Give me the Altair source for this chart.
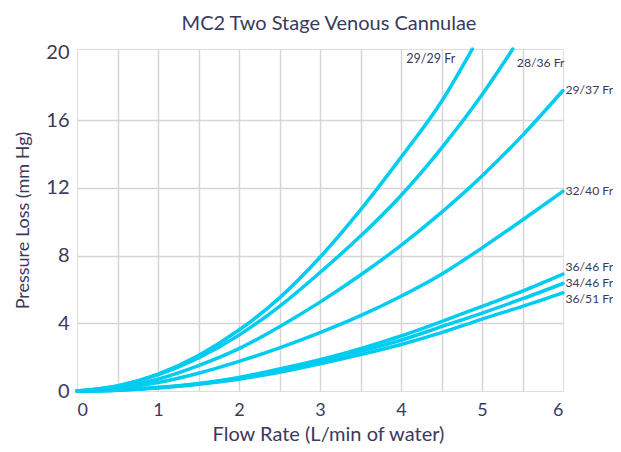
import altair as alt
import pandas as pd

series = ["29/29 Fr", "28/36 Fr", "29/37 Fr", "32/40 Fr", "36/46 Fr", "34/46 Fr", "36/51 Fr"]

x_29_29 = [0, 0.5, 1, 1.5, 2, 2.5, 3, 3.5, 4, 4.5, 4.88]
y_29_29 = [0, 0.3, 1.0, 2.1, 3.6, 5.5, 7.9, 10.7, 13.8, 17.1, 20.2]

x_28_36 = [0, 0.5, 1, 1.5, 2, 2.5, 3, 3.5, 4, 4.5, 5, 5.38]
y_28_36 = [0, 0.3, 0.95, 1.95, 3.3, 5.0, 7.0, 9.15, 11.55, 14.35, 17.5, 20.2]

x_full = [0, 0.5, 1, 1.5, 2, 2.5, 3, 3.5, 4, 4.5, 5, 5.5, 6]
y_29_37 = [0, 0.2, 0.7, 1.5, 2.5, 3.8, 5.25, 6.85, 8.6, 10.55, 12.7, 15.1, 17.75]
y_32_40 = [0, 0.15, 0.5, 1.05, 1.75, 2.55, 3.45, 4.45, 5.6, 6.9, 8.45, 10.1, 11.8]
y_36_46 = [0, 0.05, 0.2, 0.45, 0.8, 1.3, 1.85, 2.5, 3.25, 4.1, 5.0, 5.9, 6.9]
y_34_46 = [0, 0.05, 0.2, 0.42, 0.75, 1.2, 1.75, 2.35, 3.0, 3.8, 4.6, 5.45, 6.35]
y_36_51 = [0, 0.05, 0.18, 0.4, 0.7, 1.1, 1.6, 2.15, 2.75, 3.45, 4.25, 5.0, 5.8]

# label anchors (data units) for the curve annotations
label_x = [4.67, 5.43, 6.03, 6.03, 6.03, 6.03, 6.03]
label_y = [19.6, 19.4, 17.75, 11.8, 7.3, 6.4, 5.45]
label_align = ["right", "left", "left", "left", "left", "left", "left"]

x_grid = [0, 0.5, 1, 1.5, 2, 2.5, 3, 3.5, 4, 4.5, 5, 5.5, 6]
y_grid = [0, 2, 4, 6, 8, 10, 12, 14, 16, 18, 20]

rows = []
for name, xs, ys in [
    (series[0], x_29_29, y_29_29),
    (series[1], x_28_36, y_28_36),
    (series[2], x_full, y_29_37),
    (series[3], x_full, y_32_40),
    (series[4], x_full, y_36_46),
    (series[5], x_full, y_34_46),
    (series[6], x_full, y_36_51),
]:
    for xv, yv in zip(xs, ys):
        rows.append({"series": name, "flow": xv, "loss": yv})
df = pd.DataFrame(rows)

labels = pd.DataFrame({"series": series, "lx": label_x, "ly": label_y, "align": label_align})

TEXT = "#3b3a5c"
LINE = "#00CCF0"
FONT = "Lato"

xscale = alt.Scale(domain=[0, 6], nice=False)
yscale = alt.Scale(domain=[0, 20.2], nice=False)

xaxis = alt.Axis(
    values=x_grid,
    labelExpr="datum.value % 1 == 0 ? format(datum.value, 'd') : ''",
    title="Flow Rate (L/min of water)",
    grid=True,
    gridColor="#d6d6d6",
    gridWidth=1.5,
    gridOpacity={"condition": {"test": "datum.value == 0 || datum.value == 6", "value": 0}, "value": 1},
    ticks=False,
    domain=False,
    labelFontSize=18,
    labelColor=TEXT,
    labelFont=FONT,
    labelPadding=10,
    titleFontSize=20,
    titleFontWeight="normal",
    titleColor=TEXT,
    titleFont=FONT,
    titlePadding=5,
    titleX=251,
)

yaxis = alt.Axis(
    values=y_grid,
    labelExpr="datum.value % 4 == 0 ? format(datum.value, 'd') : ''",
    title="Pressure Loss (mm Hg)",
    grid=True,
    gridColor="#d6d6d6",
    gridWidth=1.5,
    gridOpacity={"condition": {"test": "datum.value == 0 || datum.value == 20", "value": 0}, "value": 1},
    ticks=False,
    domain=False,
    labelFontSize=20,
    labelColor=TEXT,
    labelFont=FONT,
    labelPadding=8,
    titleFontSize=18,
    titleFontWeight="normal",
    titleColor=TEXT,
    titleFont=FONT,
    titlePadding=13,
)

lines = alt.Chart(df).mark_line(
    color=LINE, strokeWidth=3.5, interpolate="monotone", strokeCap="round"
).encode(
    x=alt.X("flow:Q", scale=xscale, axis=xaxis),
    y=alt.Y("loss:Q", scale=yscale, axis=yaxis),
    detail="series:N",
)

text_right = alt.Chart(labels[labels["align"] == "right"]).mark_text(
    align="right", baseline="middle", fontSize=12.5, color=TEXT, font=FONT
).encode(
    x=alt.X("lx:Q", scale=xscale), y=alt.Y("ly:Q", scale=yscale), text="series:N"
)
text_left = alt.Chart(labels[labels["align"] == "left"]).mark_text(
    align="left", baseline="middle", fontSize=12.2, color=TEXT, font=FONT
).encode(
    x=alt.X("lx:Q", scale=xscale), y=alt.Y("ly:Q", scale=yscale), text="series:N"
)

chart = alt.layer(lines, text_right, text_left).properties(
    width=486,
    height=342,
    autosize="none",
    padding={"left": 69, "top": 41, "right": 50, "bottom": 53},
    title=alt.TitleParams(
        "MC2 Two Stage Venous Cannulae",
        fontSize=20,
        font=FONT,
        fontWeight="normal",
        color=TEXT,
        offset=8,
        dx=9,
    ),
).configure_view(stroke=None).configure(background="white")

chart.save("out.html", embed_options={"renderer": "svg", "actions": False})
